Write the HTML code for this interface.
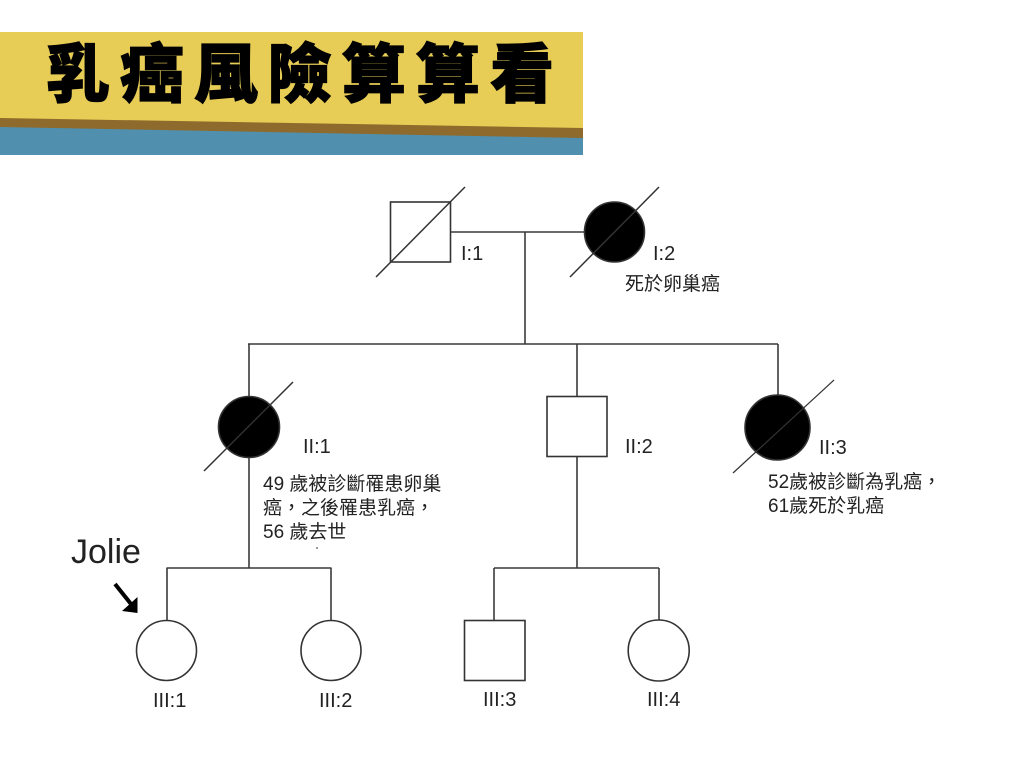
<!DOCTYPE html>
<html lang="zh-Hant">
<head>
<meta charset="utf-8">
<style>
html,body{margin:0;padding:0;background:#fff;}
svg{display:block;}
.t{font-family:"Liberation Sans","Noto Sans CJK TC",sans-serif;fill:#222;}
.ttl{font-family:"Noto Sans CJK TC","Noto Sans CJK SC","WenQuanYi Zen Hei",sans-serif;font-weight:900;font-size:64px;fill:#000;stroke:#000;stroke-width:1.2px;}
</style>
</head>
<body>
<svg width="1024" height="768" viewBox="0 0 1024 768" xmlns="http://www.w3.org/2000/svg">
  <!-- Header banner -->
  <rect x="0" y="32" width="583" height="123" fill="#E7CC56"/>
  <polygon points="0,118 583,128 583,139 0,128" fill="#8E6A2C"/>
  <polygon points="0,127 583,138 583,155 0,155" fill="#5090AE"/>
  <g class="ttl" text-anchor="middle">
    <text x="78" y="97">乳</text>
    <text x="152" y="97">癌</text>
    <text x="226" y="97">風</text>
    <text x="300" y="97">險</text>
    <text x="374" y="97">算</text>
    <text x="448" y="97">算</text>
    <text x="522" y="97">看</text>
  </g>

  <!-- Connectors -->
  <g stroke="#3a3a3a" stroke-width="1.6" fill="none">
    <line x1="451" y1="232" x2="585" y2="232"/>
    <line x1="525" y1="232" x2="525" y2="344"/>
    <line x1="248" y1="344" x2="778" y2="344"/>
    <line x1="249" y1="344" x2="249" y2="568"/>
    <line x1="577" y1="344" x2="577" y2="568"/>
    <line x1="778" y1="344" x2="778" y2="396"/>
    <line x1="166.5" y1="568" x2="331.5" y2="568"/>
    <line x1="167" y1="568" x2="167" y2="620"/>
    <line x1="331" y1="568" x2="331" y2="620"/>
    <line x1="494" y1="568" x2="659" y2="568"/>
    <line x1="494" y1="568" x2="494" y2="620"/>
    <line x1="659" y1="568" x2="659" y2="620"/>
  </g>

  <!-- Shapes -->
  <g stroke="#333" stroke-width="1.6">
    <rect x="390.5" y="202" width="60" height="60" fill="#fff"/>
    <circle cx="614.5" cy="232" r="30" fill="#000"/>
    <circle cx="249" cy="427" r="30.5" fill="#000"/>
    <rect x="547" y="396.5" width="60" height="60" fill="#fff"/>
    <circle cx="777.5" cy="427.5" r="32.5" fill="#000"/>
    <circle cx="166.5" cy="650.5" r="30" fill="#fff"/>
    <circle cx="331" cy="650.5" r="30" fill="#fff"/>
    <rect x="464.5" y="620.5" width="60.5" height="60" fill="#fff"/>
    <circle cx="658.7" cy="650.5" r="30.5" fill="#fff"/>
  </g>

  <!-- Deceased slashes -->
  <g stroke="#333" stroke-width="1.5">
    <line x1="376" y1="277" x2="465" y2="187"/>
    <line x1="570" y1="277" x2="659" y2="187"/>
    <line x1="204" y1="471" x2="293" y2="382"/>
    <line x1="733" y1="473" x2="834" y2="380" stroke-width="1.2"/>
  </g>

  <!-- Arrow -->
  <line x1="115" y1="584" x2="131" y2="604" stroke="#000" stroke-width="4"/>
  <polygon points="137.5,597 137.5,613 122,611" fill="#000"/>

  <!-- Labels -->
  <g class="t" font-size="20">
    <text x="461" y="260">I:1</text>
    <text x="653" y="260">I:2</text>
    <text x="303" y="453">II:1</text>
    <text x="625" y="453">II:2</text>
    <text x="819" y="454">II:3</text>
    <text x="153" y="707">III:1</text>
    <text x="319" y="707">III:2</text>
    <text x="483" y="706">III:3</text>
    <text x="647" y="706">III:4</text>
  </g>
  <g class="t" font-size="19">
    <text x="625" y="290">死於卵巢癌</text>
    <text x="263" y="490">49 歲被診斷罹患卵巢</text>
    <text x="263" y="514">癌，之後罹患乳癌，</text>
    <text x="263" y="538">56 歲去世</text>
    <text x="768" y="488">52歲被診斷為乳癌，</text>
    <text x="768" y="512">61歲死於乳癌</text>
  </g>
  <circle cx="317" cy="548" r="0.9" fill="#555"/>
  <text class="t" x="71" y="563" font-size="34" fill="#111">Jolie</text>
</svg>
</body>
</html>
